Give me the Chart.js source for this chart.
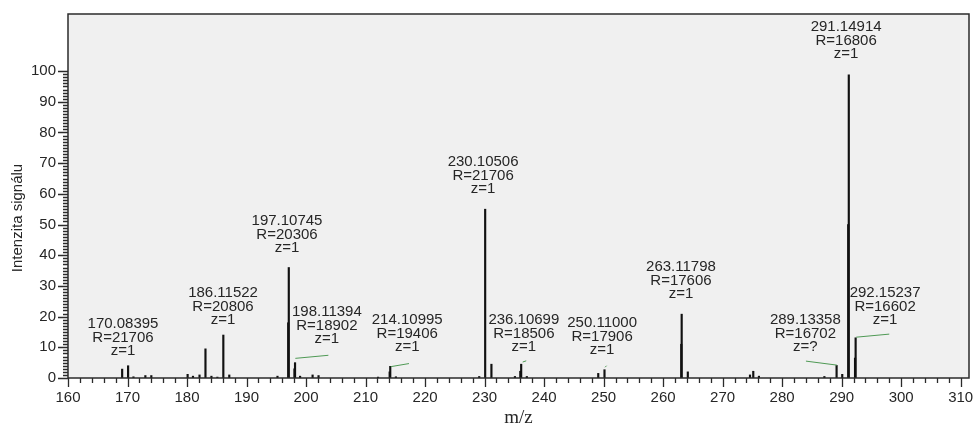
<!DOCTYPE html>
<html>
<head>
<meta charset="utf-8">
<script src="https://cdn.jsdelivr.net/npm/chart.js@4.4.1/dist/chart.umd.min.js"></script>
<style>
  html, body { margin: 0; padding: 0; background: #fff; }
</style>
</head>
<body>
<canvas id="spectrum" width="976" height="425"></canvas>
<script>
// centroid sticks (m/z, relative intensity)
const peakMz = [
  169.1, 170.1, 171.0, 173.0, 174.0, 180.1, 181.0, 182.1, 183.1, 184.1, 185.1, 186.1, 187.1,
  195.2, 197.0, 197.1, 198.05, 198.15, 199.0, 201.1, 202.1, 212.1, 214.05, 214.15, 215.1,
  229.1, 230.1, 231.15, 235.1, 236.0, 236.15, 237.1, 249.1, 250.15, 263.05, 263.12, 264.15,
  274.6, 275.15, 276.1, 287.1, 289.15, 290.1, 291.1, 291.2, 292.25, 292.35
];
const peakInt = [
  2.9, 4.0, 0.4, 0.8, 0.8, 1.2, 0.6, 1.0, 9.5, 0.6, 0.3, 14.0, 1.0,
  0.6, 18.0, 36.0, 3.0, 5.0, 0.6, 1.0, 0.8, 0.3, 2.0, 3.8, 0.4,
  0.5, 55.0, 4.5, 0.5, 2.2, 4.5, 0.5, 1.5, 2.7, 11.0, 20.8, 2.0,
  1.0, 2.2, 0.6, 0.5, 4.1, 1.2, 50.0, 98.8, 6.5, 13.1
];

// annotated peaks
const labelMz = ['170.08395', '186.11522', '197.10745', '198.11394', '214.10995', '230.10506',
  '236.10699', '250.11000', '263.11798', '289.13358', '291.14914', '292.15237'];
const labelR = ['21706', '20806', '20306', '18902', '19406', '21706',
  '18506', '17906', '17606', '16702', '16806', '16602'];
const labelZ = ['1', '1', '1', '1', '1', '1', '1', '1', '1', '?', '1', '1'];

// green isotope-fit segments: start (m/z, int) -> end (m/z, int)
const fitFromMz = [198.2, 214.25, 236.4, 250.25, 284.0, 292.45];
const fitFromInt = [6.4, 3.7, 5.2, 3.5, 5.5, 13.3];
const fitToMz = [203.75, 217.3, 237.0, 250.5, 289.2, 298.0];
const fitToInt = [7.4, 4.7, 5.6, 4.0, 4.2, 14.3];

// axis ticks
const xTickValues = [160, 170, 180, 190, 200, 210, 220, 230, 240, 250, 260, 270, 280, 290, 300, 310];
const yTickValues = [0, 10, 20, 30, 40, 50, 60, 70, 80, 90, 100];

// where each label's bottom line sits, in axis units
const labelAtMz = [169.24, 186.05, 196.8, 203.5, 217.0, 229.75, 236.6, 249.75, 263.0, 283.9, 290.75, 297.3];
const labelAtInt = [8.8, 18.9, 42.4, 12.7, 10.1, 61.6, 10.1, 9.1, 27.4, 10.1, 105.5, 18.9];

const FONT = '"Liberation Sans", Arial, Helvetica, sans-serif';
const TEXT = '#262626';

const fitData = [];
fitFromMz.forEach((m, i) => {
  fitData.push({ x: m, y: fitFromInt[i] });
  fitData.push({ x: fitToMz[i], y: fitToInt[i] });
  fitData.push({ x: fitToMz[i] + 0.01, y: null });
});

const spectrumDecor = {
  id: 'spectrumDecor',
  beforeDraw(chart) {
    const { ctx, chartArea: a } = chart;
    ctx.save();
    ctx.fillStyle = '#f0f0f0';
    ctx.fillRect(a.left, a.top, a.right - a.left, a.bottom - a.top);
    ctx.restore();
  },
  afterDatasetsDraw(chart) {
    const { ctx, chartArea: a } = chart;
    const xs = chart.scales.x, ys = chart.scales.y;
    ctx.save();
    // frame
    ctx.strokeStyle = '#2b2b2b';
    ctx.lineWidth = 1.5;
    ctx.strokeRect(a.left, a.top, a.right - a.left, a.bottom - a.top);

    // tick marks (minor every 2 on m/z, every 1 on intensity)
    ctx.lineWidth = 1.3;
    ctx.beginPath();
    for (let v = 160; v <= 310; v += 2) {
      const px = Math.round(xs.getPixelForValue(v)) + 0.5;
      const len = v % 10 === 0 ? 9 : 5;
      ctx.moveTo(px, a.bottom);
      ctx.lineTo(px, a.bottom + len);
    }
    for (let v = 0; v <= 100; v += 1) {
      const py = Math.round(ys.getPixelForValue(v)) + 0.5;
      const len = v % 10 === 0 ? 10 : 5;
      ctx.moveTo(a.left, py);
      ctx.lineTo(a.left - len, py);
    }
    ctx.stroke();

    // peak annotations
    ctx.fillStyle = TEXT;
    ctx.font = '15px ' + FONT;
    ctx.textAlign = 'center';
    ctx.textBaseline = 'middle';
    labelMz.forEach((t, i) => {
      const px = xs.getPixelForValue(labelAtMz[i]);
      const py = ys.getPixelForValue(labelAtInt[i]);
      ctx.fillText(t, px, py - 27);
      ctx.fillText('R=' + labelR[i], px, py - 13.5);
      ctx.fillText('z=' + labelZ[i], px, py);
    });

    // y title
    ctx.translate(18, 218);
    ctx.rotate(-Math.PI / 2);
    ctx.fillText('Intenzita signálu', 0, 0);
    ctx.restore();
  }
};

new Chart(document.getElementById('spectrum'), {
  type: 'bar',
  data: {
    datasets: [
      {
        type: 'line',
        data: fitData,
        borderColor: '#4f9a55',
        borderWidth: 1,
        pointRadius: 0,
        spanGaps: false,
        order: 0
      },
      {
        data: peakMz.map((m, i) => ({ x: m, y: peakInt[i] })),
        backgroundColor: '#111',
        barThickness: 1.5,
        order: 1
      }
    ]
  },
  options: {
    responsive: false,
    animation: false,
    layout: { padding: { top: 14, right: 7, left: 0, bottom: 0 } },
    plugins: { legend: { display: false }, tooltip: { enabled: false } },
    scales: {
      x: {
        type: 'linear',
        offset: false,
        min: 160,
        max: 311.4,
        grid: { display: false, drawTicks: false, offset: false },
        border: { display: false },
        afterBuildTicks: s => { s.ticks = xTickValues.map(v => ({ value: v })); },
        ticks: {
          autoSkip: false,
          maxRotation: 0,
          padding: 11,
          color: TEXT,
          font: { family: FONT, size: 15 }
        },
        title: {
          display: true,
          text: 'm/z',
          color: TEXT,
          font: { family: '"Liberation Serif", "Times New Roman", serif', size: 19, lineHeight: 1 },
          padding: { top: 0, bottom: -3 }
        },
        afterFit: s => { s.height = 47; s.paddingLeft = 0; s.paddingRight = 0; }
      },
      y: {
        min: 0,
        max: 118.6,
        grid: { display: false, drawTicks: false },
        border: { display: false },
        afterBuildTicks: s => { s.ticks = yTickValues.map(v => ({ value: v })); },
        ticks: {
          padding: 12,
          color: TEXT,
          font: { family: FONT, size: 15 }
        },
        afterFit: s => { s.width = 68; s.paddingTop = 0; s.paddingBottom = 0; }
      }
    }
  },
  plugins: [spectrumDecor]
});
</script>
</body>
</html>
